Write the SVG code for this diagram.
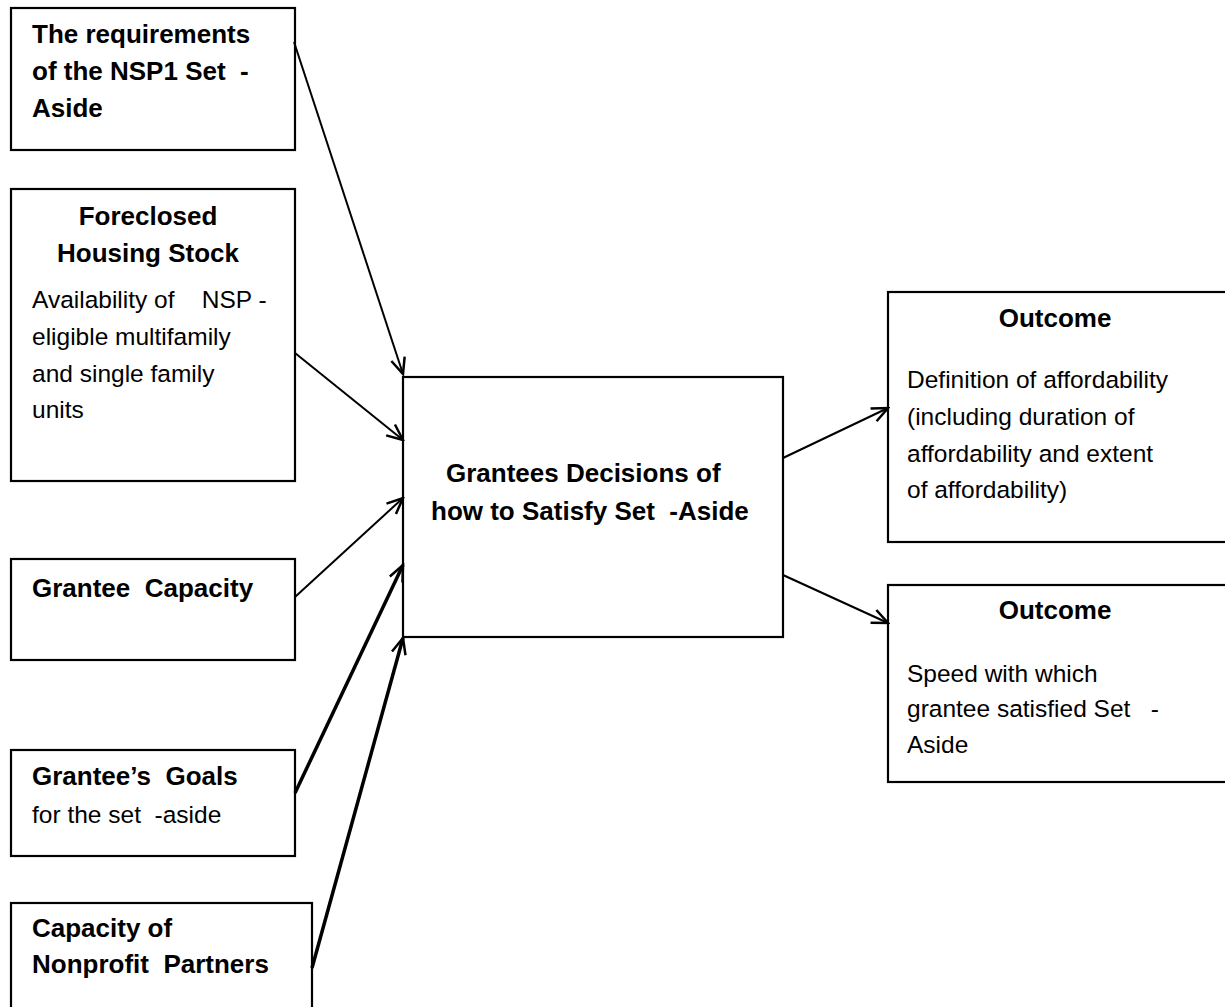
<svg xmlns="http://www.w3.org/2000/svg" width="1225" height="1007" viewBox="0 0 1225 1007">
<style>
.box{fill:#fff;stroke:#000;stroke-width:2.2}
text{font-family:"Liberation Sans",Arial,Helvetica,sans-serif;font-size:24.5px;fill:#000;white-space:pre}
.b{font-weight:bold;font-size:26px}
.c{stroke:#000;stroke-width:2;fill:none;marker-end:url(#ah)}
.t{stroke-width:3.5}
</style>
<defs>
<marker id="ah" markerUnits="userSpaceOnUse" markerWidth="20" markerHeight="20" viewBox="0 0 20 20" refX="18" refY="10" orient="auto">
<path d="M2,3 L18,10 L2,17" fill="none" stroke="#000" stroke-width="2.5"/>
</marker>
</defs>
<rect width="1225" height="1007" fill="#fff"/>
<g id="n1">
<rect class="box" x="11" y="8" width="284" height="142"/>
<text class="b" x="32" y="43">The requirements</text>
<text class="b" x="32" y="80" xml:space="preserve">of the NSP1 Set  -</text>
<text class="b" x="32" y="117">Aside</text>
</g>
<g id="n2">
<rect class="box" x="11" y="189" width="284" height="292"/>
<text class="b" x="148" y="225" text-anchor="middle">Foreclosed</text>
<text class="b" x="148" y="262" text-anchor="middle">Housing Stock</text>
<text x="32" y="308" xml:space="preserve">Availability of    NSP -</text>
<text x="32" y="345">eligible multifamily</text>
<text x="32" y="382">and single family</text>
<text x="32" y="418">units</text>
</g>
<g id="n3">
<rect class="box" x="11" y="559" width="284" height="101"/>
<text class="b" x="32" y="597" xml:space="preserve">Grantee  Capacity</text>
</g>
<g id="n4">
<rect class="box" x="11" y="750" width="284" height="106"/>
<text class="b" x="32" y="785" xml:space="preserve">Grantee’s  Goals</text>
<text x="32" y="823" xml:space="preserve">for the set  -aside</text>
</g>
<g id="n5">
<rect class="box" x="11" y="903" width="301" height="120"/>
<text class="b" x="32" y="937">Capacity of</text>
<text class="b" x="32" y="973" xml:space="preserve">Nonprofit  Partners</text>
</g>
<g id="center">
<rect class="box" x="403" y="377" width="380" height="260"/>
<text class="b" x="446" y="482">Grantees Decisions of</text>
<text class="b" x="431" y="520" xml:space="preserve">how to Satisfy Set  -Aside</text>
</g>
<g id="o1">
<rect class="box" x="888" y="292" width="345" height="250"/>
<text class="b" x="1055" y="327" text-anchor="middle">Outcome</text>
<text x="907" y="388">Definition of affordability</text>
<text x="907" y="425">(including duration of</text>
<text x="907" y="462">affordability and extent</text>
<text x="907" y="498">of affordability)</text>
</g>
<g id="o2">
<rect class="box" x="888" y="585" width="345" height="197"/>
<text class="b" x="1055" y="619" text-anchor="middle">Outcome</text>
<text x="907" y="682">Speed with which</text>
<text x="907" y="717" xml:space="preserve">grantee satisfied Set   -</text>
<text x="907" y="753">Aside</text>
</g>
<g id="connectors">
<line class="c" x1="294" y1="42" x2="403" y2="374"/>
<line class="c" x1="295" y1="353" x2="403" y2="440"/>
<line class="c" x1="295" y1="597" x2="403" y2="498"/>
<line class="c t" x1="295" y1="793" x2="403" y2="565"/>
<line class="c t" x1="312" y1="968" x2="403" y2="638"/>
<line class="c" x1="783" y1="458" x2="888" y2="408"/>
<line class="c" x1="783" y1="575" x2="888" y2="623"/>
</g>
</svg>
